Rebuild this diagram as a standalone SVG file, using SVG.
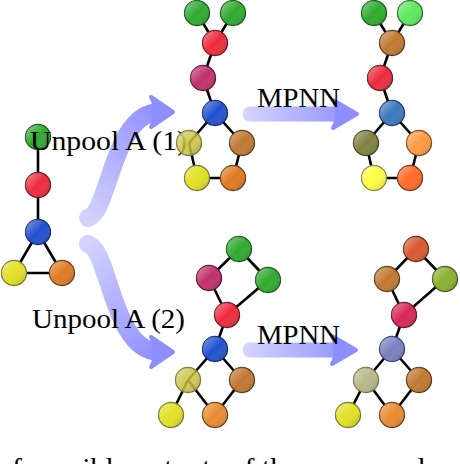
<svg xmlns="http://www.w3.org/2000/svg" width="460" height="464" viewBox="0 0 460 464">
<defs>
<linearGradient id="sh" x1="0" y1="0" x2="1" y2="1">
<stop offset="0" stop-color="#fff" stop-opacity="0.45"/>
<stop offset="0.5" stop-color="#fff" stop-opacity="0"/>
<stop offset="1" stop-color="#000" stop-opacity="0.28"/>
</linearGradient>
<linearGradient id="a1" gradientUnits="userSpaceOnUse" x1="88" y1="218" x2="170" y2="112">
<stop offset="0" stop-color="#d2d2fc"/><stop offset="1" stop-color="#8e8eff"/>
</linearGradient>
<linearGradient id="a2" gradientUnits="userSpaceOnUse" x1="88" y1="244" x2="170" y2="352">
<stop offset="0" stop-color="#d2d2fc"/><stop offset="1" stop-color="#8e8eff"/>
</linearGradient>
<linearGradient id="a3" gradientUnits="userSpaceOnUse" x1="243" y1="0" x2="350" y2="0">
<stop offset="0" stop-color="#d6d6ff"/><stop offset="1" stop-color="#9090ff"/>
</linearGradient>
</defs>
<style>
.band{fill:none;stroke-linecap:round}
.head{fill:#8e8eff;stroke:#8e8eff;stroke-width:4;stroke-linejoin:round}
.e line{stroke:#000;stroke-width:2.6}
circle{stroke-width:1.3}
.s{fill:url(#sh);stroke:none}
.lbl{font-family:"Liberation Serif","Times New Roman",serif;font-size:27px;fill:#000}
.g{fill:#2eaa2e;stroke:#155515}
.lg{fill:#5ce85c;stroke:#207020}
.r{fill:#ee2a3c;stroke:#6e0f18}
.b{fill:#2050d0;stroke:#102868}
.sb{fill:#3a78c0;stroke:#1a3860}
.y{fill:#e2e024;stroke:#77772a}
.yy{fill:#ffff44;stroke:#888840}
.o{fill:#e07a22;stroke:#6a3a10}
.o2{fill:#e88a30;stroke:#6a3a10}
.lo{fill:#ff9a44;stroke:#7a4a18}
.or{fill:#ff6a28;stroke:#7a3010}
.m{fill:#c0306a;stroke:#5a1030}
.ol{fill:#c8c038;stroke:#777733;fill-opacity:0.85}
.br{fill:#c07830;stroke:#5a3810}
.dol{fill:#808040;stroke:#404020}
.ro{fill:#d85830;stroke:#6a2810}
.yg{fill:#88b030;stroke:#405818}
.cr{fill:#d82858;stroke:#6a1028}
.sl{fill:#7a80c0;stroke:#3a4070}
.kh{fill:#b8b88a;stroke:#707050}
</style>

<g id="connectors">
<path class="band" d="M 88 218 C 110 212, 112 112, 160 112" stroke="url(#a1)" stroke-width="18"/>
<path class="head" transform="translate(173,112)" d="M 0 0 L -22 -15 C -17 -7 -17 7 -22 15 Z"/>
<path class="band" d="M 88 244 C 110 250, 112 352, 160 352" stroke="url(#a2)" stroke-width="18"/>
<path class="head" transform="translate(173,352)" d="M 0 0 L -22 -15 C -17 -7 -17 7 -22 15 Z"/>
<line class="band" x1="250" y1="114" x2="340" y2="114" stroke="url(#a3)" stroke-width="15"/>
<path class="head" transform="translate(357,114)" d="M 0 0 L -24 -14 C -19 -6 -19 6 -24 14 Z"/>
<line class="band" x1="250" y1="350" x2="340" y2="350" stroke="url(#a3)" stroke-width="15"/>
<path class="head" transform="translate(356,350)" d="M 0 0 L -24 -14 C -19 -6 -19 6 -24 14 Z"/>
<g class="e">
<!-- left -->
<line x1="38" y1="137" x2="38" y2="185"/><line x1="38" y1="185" x2="38" y2="232"/>
<line x1="38" y1="232" x2="14" y2="273"/><line x1="38" y1="232" x2="62" y2="273"/><line x1="14" y1="273" x2="62" y2="273"/>
<!-- top middle -->
<line x1="197" y1="13" x2="215" y2="43"/><line x1="233" y1="13" x2="215" y2="43"/>
<line x1="215" y1="43" x2="203" y2="78"/><line x1="203" y1="78" x2="215" y2="113"/>
<line x1="215" y1="113" x2="189" y2="143"/><line x1="215" y1="113" x2="242" y2="143"/>
<line x1="189" y1="143" x2="197" y2="178"/><line x1="197" y1="178" x2="233" y2="178"/><line x1="233" y1="178" x2="242" y2="143"/>
<!-- top right -->
<line x1="374" y1="13" x2="392" y2="43"/><line x1="410" y1="13" x2="392" y2="43"/>
<line x1="392" y1="43" x2="380" y2="78"/><line x1="380" y1="78" x2="392" y2="113"/>
<line x1="392" y1="113" x2="366" y2="143"/><line x1="392" y1="113" x2="419" y2="143"/>
<line x1="366" y1="143" x2="374" y2="178"/><line x1="374" y1="178" x2="410" y2="178"/><line x1="410" y1="178" x2="419" y2="143"/>
<!-- bottom middle -->
<line x1="239" y1="249" x2="209" y2="278"/><line x1="239" y1="249" x2="268" y2="280"/>
<line x1="209" y1="278" x2="227" y2="315"/><line x1="268" y1="280" x2="227" y2="315"/>
<line x1="227" y1="315" x2="215" y2="349"/>
<line x1="215" y1="349" x2="188" y2="380"/><line x1="215" y1="349" x2="242" y2="380"/>
<line x1="188" y1="380" x2="171" y2="415"/><line x1="188" y1="380" x2="215" y2="415"/><line x1="242" y1="380" x2="215" y2="415"/>
<!-- bottom right -->
<line x1="416" y1="249" x2="387" y2="279"/><line x1="416" y1="249" x2="445" y2="279"/>
<line x1="387" y1="279" x2="404" y2="315"/><line x1="445" y1="279" x2="404" y2="315"/>
<line x1="404" y1="315" x2="392" y2="349"/>
<line x1="392" y1="349" x2="366" y2="380"/><line x1="392" y1="349" x2="419" y2="380"/>
<line x1="366" y1="380" x2="348" y2="415"/><line x1="366" y1="380" x2="392" y2="415"/><line x1="419" y1="380" x2="392" y2="415"/>
</g>
</g>

<!-- left graph -->
<g id="L1"><circle class="g" cx="38" cy="137" r="12.5"/><circle class="s" cx="38" cy="137" r="12.5"/></g>
<g id="L2"><circle class="r" cx="38" cy="185" r="12.5"/><circle class="s" cx="38" cy="185" r="12.5"/></g>
<g id="L3"><circle class="b" cx="38" cy="232" r="12.5"/><circle class="s" cx="38" cy="232" r="12.5"/></g>
<g id="L4"><circle class="y" cx="14" cy="273" r="12.5"/><circle class="s" cx="14" cy="273" r="12.5"/></g>
<g id="L5"><circle class="o" cx="62" cy="273" r="12.5"/><circle class="s" cx="62" cy="273" r="12.5"/></g>

<g id="labels">
<text class="lbl" x="30" y="150" textLength="157" lengthAdjust="spacingAndGlyphs">Unpool A (1)</text>
<text class="lbl" x="32" y="328" textLength="153" lengthAdjust="spacingAndGlyphs">Unpool A (2)</text>
<text class="lbl" x="257" y="107" textLength="83" lengthAdjust="spacingAndGlyphs">MPNN</text>
<text class="lbl" x="257" y="344" textLength="83" lengthAdjust="spacingAndGlyphs">MPNN</text>
<text class="lbl" x="-3" y="477" style="font-size:28px" textLength="428" lengthAdjust="spacingAndGlyphs">of possible outputs of the coarsened</text>
</g>

<!-- top middle -->
<g id="A1"><circle class="g" cx="197" cy="13" r="12.5"/><circle class="s" cx="197" cy="13" r="12.5"/></g>
<g id="A2"><circle class="g" cx="233" cy="13" r="12.5"/><circle class="s" cx="233" cy="13" r="12.5"/></g>
<g id="A3"><circle class="r" cx="215" cy="43" r="12.5"/><circle class="s" cx="215" cy="43" r="12.5"/></g>
<g id="A4"><circle class="m" cx="203" cy="78" r="12.5"/><circle class="s" cx="203" cy="78" r="12.5"/></g>
<g id="A5"><circle class="b" cx="215" cy="113" r="12.5"/><circle class="s" cx="215" cy="113" r="12.5"/></g>
<g id="A6"><circle class="ol" cx="189" cy="143" r="12.5"/><circle class="s" cx="189" cy="143" r="12.5"/></g>
<g id="A7"><circle class="br" cx="242" cy="143" r="12.5"/><circle class="s" cx="242" cy="143" r="12.5"/></g>
<g id="A8"><circle class="y" cx="197" cy="178" r="12.5"/><circle class="s" cx="197" cy="178" r="12.5"/></g>
<g id="A9"><circle class="o" cx="233" cy="178" r="12.5"/><circle class="s" cx="233" cy="178" r="12.5"/></g>

<!-- top right -->
<g id="B1"><circle class="g" cx="374" cy="13" r="12.5"/><circle class="s" cx="374" cy="13" r="12.5"/></g>
<g id="B2"><circle class="lg" cx="410" cy="13" r="12.5"/><circle class="s" cx="410" cy="13" r="12.5"/></g>
<g id="B3"><circle class="br" cx="392" cy="43" r="12.5"/><circle class="s" cx="392" cy="43" r="12.5"/></g>
<g id="B4"><circle class="r" cx="380" cy="78" r="12.5"/><circle class="s" cx="380" cy="78" r="12.5"/></g>
<g id="B5"><circle class="sb" cx="392" cy="113" r="12.5"/><circle class="s" cx="392" cy="113" r="12.5"/></g>
<g id="B6"><circle class="dol" cx="366" cy="143" r="12.5"/><circle class="s" cx="366" cy="143" r="12.5"/></g>
<g id="B7"><circle class="lo" cx="419" cy="143" r="12.5"/><circle class="s" cx="419" cy="143" r="12.5"/></g>
<g id="B8"><circle class="yy" cx="374" cy="178" r="12.5"/><circle class="s" cx="374" cy="178" r="12.5"/></g>
<g id="B9"><circle class="or" cx="410" cy="178" r="12.5"/><circle class="s" cx="410" cy="178" r="12.5"/></g>

<!-- bottom middle -->
<g id="C1"><circle class="g" cx="239" cy="249" r="12.5"/><circle class="s" cx="239" cy="249" r="12.5"/></g>
<g id="C2"><circle class="m" cx="209" cy="278" r="12.5"/><circle class="s" cx="209" cy="278" r="12.5"/></g>
<g id="C3"><circle class="g" cx="268" cy="280" r="12.5"/><circle class="s" cx="268" cy="280" r="12.5"/></g>
<g id="C4"><circle class="r" cx="227" cy="315" r="12.5"/><circle class="s" cx="227" cy="315" r="12.5"/></g>
<g id="C5"><circle class="b" cx="215" cy="349" r="12.5"/><circle class="s" cx="215" cy="349" r="12.5"/></g>
<g id="C6"><circle class="ol" cx="188" cy="380" r="12.5"/><circle class="s" cx="188" cy="380" r="12.5"/></g>
<g id="C7"><circle class="br" cx="242" cy="380" r="12.5"/><circle class="s" cx="242" cy="380" r="12.5"/></g>
<g id="C8"><circle class="y" cx="171" cy="415" r="12.5"/><circle class="s" cx="171" cy="415" r="12.5"/></g>
<g id="C9"><circle class="o2" cx="215" cy="415" r="12.5"/><circle class="s" cx="215" cy="415" r="12.5"/></g>

<!-- bottom right -->
<g id="D1"><circle class="ro" cx="416" cy="249" r="12.5"/><circle class="s" cx="416" cy="249" r="12.5"/></g>
<g id="D2"><circle class="br" cx="387" cy="279" r="12.5"/><circle class="s" cx="387" cy="279" r="12.5"/></g>
<g id="D3"><circle class="yg" cx="445" cy="279" r="12.5"/><circle class="s" cx="445" cy="279" r="12.5"/></g>
<g id="D4"><circle class="cr" cx="404" cy="315" r="12.5"/><circle class="s" cx="404" cy="315" r="12.5"/></g>
<g id="D5"><circle class="sl" cx="392" cy="349" r="12.5"/><circle class="s" cx="392" cy="349" r="12.5"/></g>
<g id="D6"><circle class="kh" cx="366" cy="380" r="12.5"/><circle class="s" cx="366" cy="380" r="12.5"/></g>
<g id="D7"><circle class="br" cx="419" cy="380" r="12.5"/><circle class="s" cx="419" cy="380" r="12.5"/></g>
<g id="D8"><circle class="y" cx="348" cy="415" r="12.5"/><circle class="s" cx="348" cy="415" r="12.5"/></g>
<g id="D9"><circle class="o2" cx="392" cy="415" r="12.5"/><circle class="s" cx="392" cy="415" r="12.5"/></g>
</svg>
